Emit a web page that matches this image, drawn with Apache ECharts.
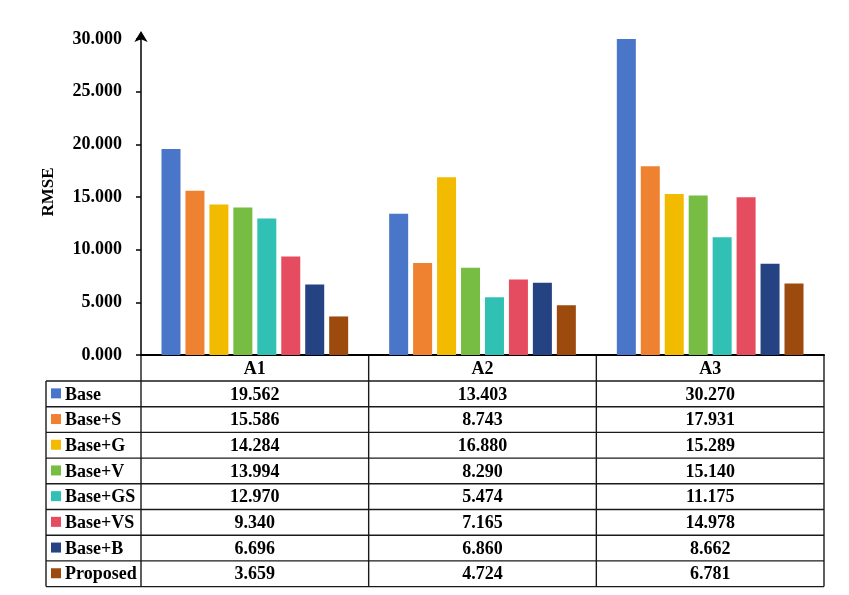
<!DOCTYPE html>
<html>
<head>
    <meta charset="utf-8" />
    <title>RMSE</title>
    <script type="text/javascript" src="https://cdn.jsdelivr.net/npm/echarts@6/dist/echarts.min.js"></script>
    <style>
        html, body { margin: 0; padding: 0; background: #fff; }
    </style>
</head>
<body>
<div id="main" style="width: 849px;height:595px;"></div>
<script type="text/javascript">
    // data
    var categories = ['A1', 'A2', 'A3'];
    var methods = ['Base', 'Base+S', 'Base+G', 'Base+V', 'Base+GS', 'Base+VS', 'Base+B', 'Proposed'];
    var base     = [19.562, 13.403, 30.270];
    var baseS    = [15.586, 8.743, 17.931];
    var baseG    = [14.284, 16.880, 15.289];
    var baseV    = [13.994, 8.290, 15.140];
    var baseGS   = [12.970, 5.474, 11.175];
    var baseVS   = [9.340, 7.165, 14.978];
    var baseB    = [6.696, 6.860, 8.662];
    var proposed = [3.659, 4.724, 6.781];
    var yTicks = [0, 5, 10, 15, 20, 25, 30];

    var values = [base, baseS, baseG, baseV, baseGS, baseVS, baseB, proposed];
    var colors = ['#4a76c9', '#ef8230', '#f2bb00', '#78bd43', '#31c1b4', '#e64c60', '#254283', '#9c4a0e'];
    var serif = '"Liberation Serif", "Times New Roman", serif';

    var myChart = echarts.init(document.getElementById('main'));

    var series = [];
    for (var i = 0; i < methods.length; i++) {
        series.push({
            name: methods[i],
            type: 'bar',
            data: values[i],
            barGap: '26%',
            barCategoryGap: '18%',
            itemStyle: { color: colors[i] }
        });
    }

    var option = {
        animation: false,
        color: colors,
        grid: { left: 141, right: 25, top: 39, bottom: 240 },
        xAxis: {
            type: 'category',
            data: categories,
            axisLine: { lineStyle: { color: '#000', width: 2 } },
            axisTick: { show: false },
            axisLabel: {
                margin: 5,
                color: '#000',
                fontFamily: serif,
                fontWeight: 'bold',
                fontSize: 18
            }
        },
        yAxis: {
            type: 'value',
            min: yTicks[0],
            max: yTicks[yTicks.length - 1],
            interval: yTicks[1] - yTicks[0],
            name: 'RMSE',
            nameLocation: 'middle',
            nameGap: 84,
            nameTextStyle: { color: '#000', fontFamily: serif, fontWeight: 'bold', fontSize: 17, padding: [0, 0, 0, 10] },
            splitLine: { show: false },
            axisLine: {
                show: true,
                symbol: ['none', 'arrow'],
                symbolSize: [10, 11],
                symbolOffset: [0, 8],
                lineStyle: { color: '#000', width: 1.5 }
            },
            axisTick: { show: true, length: 5, lineStyle: { color: '#000', width: 1.5 } },
            axisLabel: {
                margin: 19,
                color: '#000',
                fontFamily: serif,
                fontWeight: 'bold',
                fontSize: 18,
                formatter: function (v) { return v.toFixed(3); }
            }
        },
        series: series
    };
    myChart.setOption(option);

    // data table under the plot, placed from the axis scales
    function drawTable() {
        var c0 = myChart.convertToPixel({ xAxisIndex: 0 }, categories[0]);
        var c1 = myChart.convertToPixel({ xAxisIndex: 0 }, categories[1]);
        var band = c1 - c0;
        var y0 = myChart.convertToPixel({ yAxisIndex: 0 }, 0);
        var left = 46;
        var headerH = 26;
        var rowH = 25.7;
        var colEdges = [];
        for (var k = 0; k <= categories.length; k++) {
            colEdges.push(c0 - band / 2 + k * band);
        }
        var bottom = y0 + headerH + rowH * methods.length;
        var line = { stroke: '#1a1a1a', lineWidth: 1.4 };
        var els = [];

        // horizontal lines
        for (var r = 0; r <= methods.length; r++) {
            var yy = y0 + headerH + r * rowH;
            els.push({ type: 'line', shape: { x1: left, y1: yy, x2: colEdges[colEdges.length - 1], y2: yy }, style: line });
        }
        // vertical lines
        els.push({ type: 'line', shape: { x1: left, y1: y0 + headerH, x2: left, y2: bottom }, style: line });
        for (var k2 = 0; k2 < colEdges.length; k2++) {
            els.push({ type: 'line', shape: { x1: colEdges[k2], y1: y0, x2: colEdges[k2], y2: bottom }, style: line });
        }
        // rows
        for (var m = 0; m < methods.length; m++) {
            var cy = y0 + headerH + m * rowH + rowH / 2;
            els.push({ type: 'rect', shape: { x: left + 5, y: cy - 5.5, width: 10, height: 10 }, style: { fill: colors[m] } });
            els.push({
                type: 'text',
                style: {
                    text: methods[m], x: left + 19, y: cy + 1,
                    align: 'left', verticalAlign: 'middle',
                    font: 'bold 18px ' + serif, fill: '#000'
                }
            });
            for (var j = 0; j < categories.length; j++) {
                els.push({
                    type: 'text',
                    style: {
                        text: values[m][j].toFixed(3), x: c0 + j * band, y: cy + 1,
                        align: 'center', verticalAlign: 'middle',
                        font: 'bold 18px ' + serif, fill: '#000'
                    }
                });
            }
        }
        myChart.setOption({ graphic: { elements: els } });
    }
    drawTable();
</script>
</body>
</html>
